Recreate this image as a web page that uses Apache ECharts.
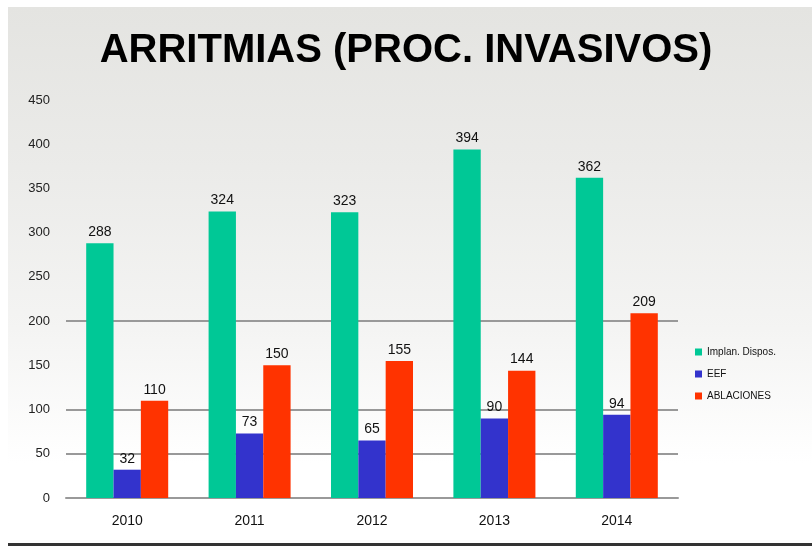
<!DOCTYPE html>
<html>
<head>
<meta charset="utf-8">
<script src="https://cdn.jsdelivr.net/npm/echarts@6/dist/echarts.min.js"></script>
<style>
  html, body { margin: 0; padding: 0; background: #fff; }
  .panel {
    position: absolute; left: 8px; top: 7px; width: 804px; height: 536px;
    background: linear-gradient(to bottom, #e4e4e1 0%, #ebebe9 30%, #f4f4f3 60%, #ffffff 85%);
    border-bottom: 3px solid #333;
  }
  #chart { position: absolute; left: 0; top: 0; width: 812px; height: 546px; }
</style>
</head>
<body>
<div class="panel"></div>
<div id="chart"></div>
<script>
// categorias y valores
const years = ['2010', '2011', '2012', '2013', '2014']
const implantes = [288, 324, 323, 394, 362]
const eef = [32, 73, 65, 90, 94]
const ablaciones = [110, 150, 155, 144, 209]
const seriesNames = ['Implan. Dispos.', 'EEF', 'ABLACIONES']
// lineas de referencia visibles en el original
const gridValues = [50, 100, 200]

const colors = ['#00c896', '#3333cc', '#ff3300']
const labelStyle = {
  show: true,
  position: 'top',
  distance: 4,
  color: '#111',
  fontFamily: 'Liberation Sans',
  fontSize: 14
}

let mychart = echarts.init(document.getElementById('chart'))
mychart.setOption({
  backgroundColor: 'transparent',
  animation: false,
  title: {
    text: 'ARRITMIAS (PROC. INVASIVOS)',
    left: 'center',
    top: 26,
    textStyle: {
      fontFamily: 'Liberation Sans',
      fontWeight: 'bold',
      fontSize: 40,
      color: '#000'
    }
  },
  legend: {
    orient: 'vertical',
    left: 690,
    top: 342,
    itemWidth: 7,
    itemHeight: 7,
    itemGap: 12,
    icon: 'rect',
    textStyle: { fontFamily: 'Liberation Sans', fontSize: 10, color: '#111' },
    data: seriesNames
  },
  grid: { left: 66, right: 134, top: 100, bottom: 48 },
  xAxis: {
    type: 'category',
    data: years,
    axisTick: { show: false },
    axisLine: { lineStyle: { color: '#999', width: 2 } },
    axisLabel: { color: '#111', fontFamily: 'Liberation Sans', fontSize: 14, margin: 16 }
  },
  yAxis: {
    type: 'value',
    min: 0,
    max: 450,
    interval: 50,
    splitLine: { show: false },
    axisLine: { show: false },
    axisTick: { show: false },
    axisLabel: { color: '#222', fontFamily: 'Liberation Sans', fontSize: 13, margin: 16 }
  },
  series: [
    {
      name: seriesNames[0],
      type: 'bar',
      data: implantes,
      itemStyle: { color: colors[0] },
      barGap: 0,
      barCategoryGap: '33%',
      label: labelStyle,
      z: 3,
      markLine: {
        silent: true,
        symbol: 'none',
        label: { show: false },
        lineStyle: { color: '#999', width: 2, type: 'solid' },
        data: gridValues.map(v => ({ yAxis: v })),
        z: 1
      }
    },
    {
      name: seriesNames[1],
      type: 'bar',
      data: eef,
      itemStyle: { color: colors[1] },
      label: labelStyle,
      z: 3
    },
    {
      name: seriesNames[2],
      type: 'bar',
      data: ablaciones,
      itemStyle: { color: colors[2] },
      label: labelStyle,
      z: 3
    }
  ]
})
</script>
</body>
</html>
